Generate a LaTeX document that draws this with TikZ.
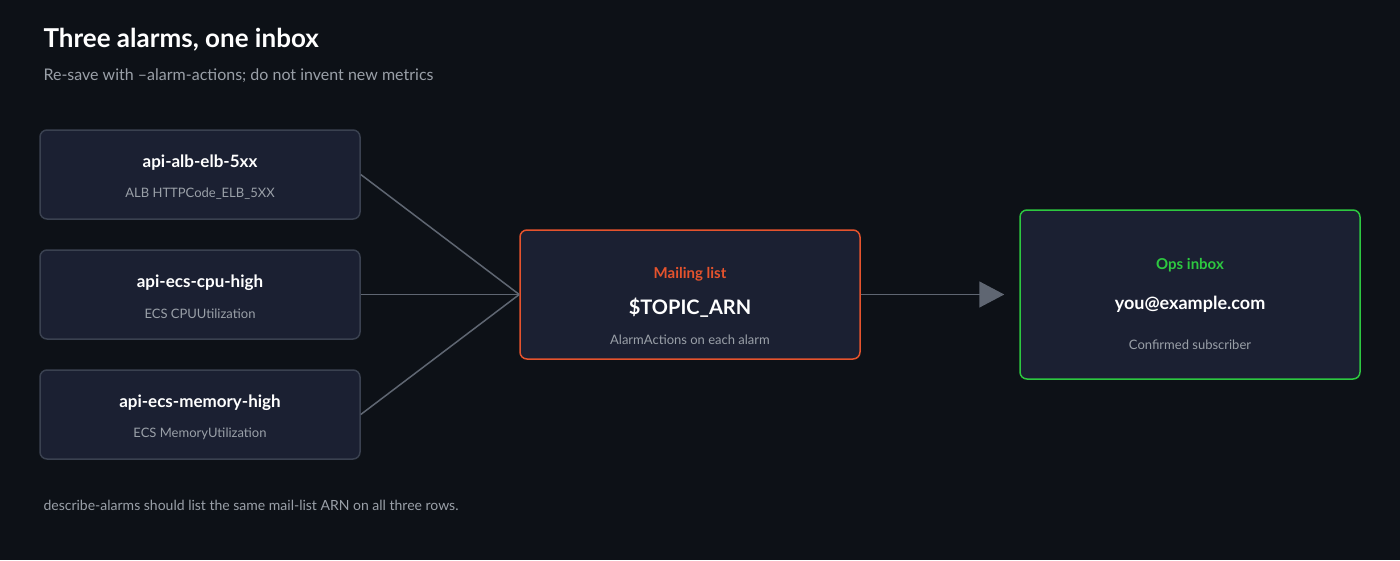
\documentclass[tikz,border=0pt]{standalone}
\usepackage{fontspec}
\setmainfont{Lato}
\usetikzlibrary{arrows.meta}
\definecolor{bgc}{HTML}{0D1117}
\definecolor{boxc}{HTML}{1B2032}
\definecolor{edgec}{HTML}{3A4150}
\definecolor{linec}{HTML}{5F6672}
\definecolor{mutec}{HTML}{9AA0A8}
\definecolor{orangec}{HTML}{E5532D}
\definecolor{greenc}{HTML}{2DC840}
\tikzset{
  card/.style={draw=edgec, line width=1.5pt, fill=boxc, rounded corners=7pt, minimum width=320pt, minimum height=89pt, inner sep=0pt},
  cardt/.style={text=white, font=\fontsize{17}{20}\selectfont\bfseries},
  cards/.style={text=mutec, font=\fontsize{13}{16}\selectfont},
  wire/.style={draw=linec, line width=1.5pt}
}
\begin{document}
\begin{tikzpicture}[x=1pt,y=1pt,yscale=-1,xscale=1]
\path[fill=bgc] (0,0) rectangle (1400,560);
\useasboundingbox (0,0) rectangle (1400,560);

% Title
\node[anchor=west, text=white, font=\fontsize{26}{30}\selectfont\bfseries] (title) at (40,40) {Three alarms, one inbox};
\node[anchor=west, text=mutec, font=\fontsize{16}{19}\selectfont] (subtitle) at (40,76) {Re-save with --alarm-actions; do not invent new metrics};

% Alarm cards
\node[card] (elb) at (200,174.5) {};
\node[cardt] at (200,163) {api-alb-elb-5xx};
\node[cards] at (200,194) {ALB HTTPCode\_ELB\_5XX};
\node[card] (cpu) at (200,294.5) {};
\node[cardt] at (200,283) {api-ecs-cpu-high};
\node[cards] at (200,314) {ECS CPUUtilization};
\node[card] (mem) at (200,414.5) {};
\node[cardt] at (200,403) {api-ecs-memory-high};
\node[cards] at (200,434) {ECS MemoryUtilization};

% Topic
\node[card, draw=orangec, minimum width=340pt, minimum height=129pt] (topic) at (690,294.5) {};
\node[text=orangec, font=\fontsize{15}{18}\selectfont\bfseries] at (690,274) {Mailing list};
\node[cardt, font=\fontsize{20}{24}\selectfont\bfseries] at (690,308) {\$TOPIC\_ARN};
\node[cards] at (690,340) {AlarmActions on each alarm};

% Inbox
\node[card, draw=greenc, minimum width=340pt, minimum height=169pt] (inbox) at (1190,294.5) {};
\node[text=greenc, font=\fontsize{15}{18}\selectfont\bfseries] at (1190,265) {Ops inbox};
\node[cardt, font=\fontsize{18}{22}\selectfont\bfseries] at (1190,304) {you@example.com};
\node[cards] at (1190,345) {Confirmed subscriber};

% Wires
\draw[wire] (elb.east) -- (topic.west);
\draw[wire] (cpu.east) -- (topic.west);
\draw[wire] (mem.east) -- (topic.west);
\draw[wire, -{Triangle[length=25pt, width=26pt]}] (topic.east) -- ([xshift=-15pt]inbox.west);

\node[anchor=west, text=mutec, font=\fontsize{14}{17}\selectfont] (foot) at (40,505) {describe-alarms should list the same mail-list ARN on all three rows.};
\end{tikzpicture}
\end{document}
